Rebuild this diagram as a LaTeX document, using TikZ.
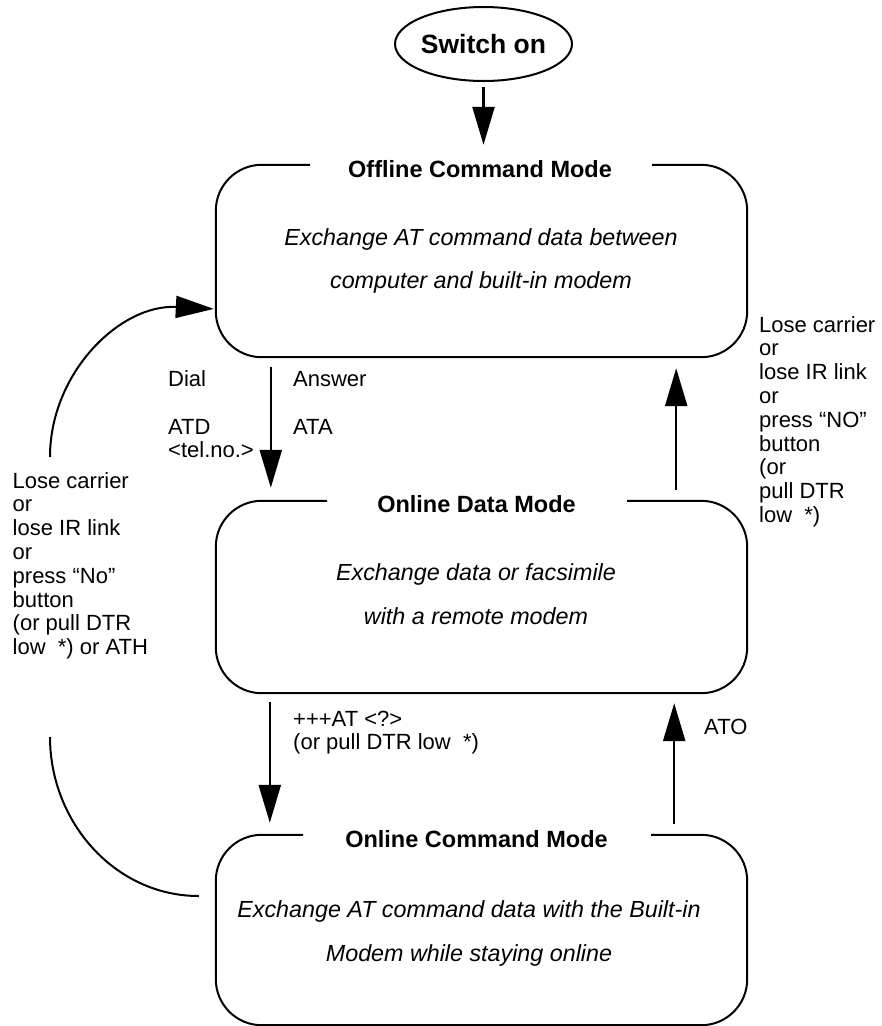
\documentclass[tikz,border=0pt]{standalone}
\usepackage{fontspec}
\setmainfont{Liberation Sans}
\usetikzlibrary{arrows.meta,shapes.geometric}
\newcommand\lblfont{\fontsize{22}{23.8}\selectfont}
\newcommand\mlines[1]{\begin{tabular}[t]{@{}l@{}}#1\end{tabular}}
\begin{document}
\begin{tikzpicture}[x=1pt,y=-1pt,
  boxn/.style={rectangle, draw=none, minimum width=531pt, inner sep=0pt},
  boxline/.style={line width=2pt, rounded corners=46pt},
  arr/.style={line width=2.5pt, -{Triangle[length=38pt,width=22pt]}},
  arcline/.style={line width=2pt},
  titletxt/.style={anchor=base, inner sep=0pt, font=\fontsize{23.5}{28}\selectfont\bfseries},
  bodytxt/.style={anchor=base, inner sep=0pt, font=\fontsize{23.3}{28}\selectfont\itshape},
  lbl/.style={anchor=base west, inner sep=0pt, font=\lblfont},
  startnode/.style={ellipse, draw, line width=2pt, minimum width=169pt, minimum height=74pt, inner sep=0pt, font=\fontsize{26.5}{30}\selectfont\bfseries}]
\fill[white] (0,0) rectangle (882,1026);
\useasboundingbox (0,0) rectangle (882,1026);

% start node
\node[startnode] (sw) at (483.5,44) {Switch on};

% boxes
\node[boxn, minimum height=192pt] (off) at (481.5,261) {};
\node[boxn, minimum height=192pt] (data) at (481.5,597) {};
\node[boxn, minimum height=190pt] (cmd) at (481.5,930) {};

\draw[boxline] ([xshift=-171.5pt]off.north) -- (off.north west) -- (off.south west) -- (off.south east) -- (off.north east) -- ([xshift=170.5pt]off.north);
\draw[boxline] ([xshift=-154.5pt]data.north) -- (data.north west) -- (data.south west) -- (data.south east) -- (data.north east) -- ([xshift=145.5pt]data.north);
\draw[boxline] ([xshift=-178.5pt]cmd.north) -- (cmd.north west) -- (cmd.south west) -- (cmd.south east) -- (cmd.north east) -- ([xshift=169.5pt]cmd.north);

% titles
\node[titletxt] (offT) at (480,177) {Offline Command Mode};
\node[titletxt] (dataT) at (476.5,512) {Online Data Mode};
\node[titletxt] (cmdT) at (476.5,847) {Online Command Mode};

% body texts
\node[bodytxt] (offB1) at (481,245) {Exchange AT command data between};
\node[bodytxt] (offB2) at (481,288) {computer and built-in modem};
\node[bodytxt] (dataB1) at (476,580) {Exchange data or facsimile};
\node[bodytxt] (dataB2) at (476,624) {with a remote modem};
\node[bodytxt] (cmdB1) at (469,917) {Exchange AT command data with the Built-in};
\node[bodytxt] (cmdB2) at (469,961) {Modem while staying online};

% connectors
\draw[arr, shorten <=5pt, shorten >=20pt] (sw.south) -- (sw.south |- off.north);
\draw[arr, shorten <=10pt, shorten >=13pt] ([xshift=55pt]off.south west) -- ([xshift=55pt]data.north west);
\draw[arr, shorten <=11pt, shorten >=11pt] ([xshift=-71pt]data.north east) -- ([xshift=-71pt]off.south east);
\draw[arr, shorten <=9pt, shorten >=12pt] ([xshift=54pt]data.south west) -- ([xshift=54pt]cmd.north west);
\draw[arr, shorten <=11pt, shorten >=10pt] ([xshift=-73pt]cmd.north east) -- ([xshift=-73pt]data.south east);

\coordinate (loopA) at (50,457);
\coordinate (loopB) at (50,737);
\draw[arr, line width=2pt, shorten >=2pt] (loopA) .. controls (50,373) and (120,304) .. ([yshift=-48pt]off.west);
\draw[arcline, shorten >=17pt] (loopB) .. controls (50,822) and (115,896) .. ([yshift=34pt]cmd.west);

% labels
\node[lbl] (dial) at (168,386.5) {\mlines{Dial\\ \\ATD\\<tel.no.>}};
\node[lbl] (answer) at (293,386.5) {\mlines{Answer\\ \\ATA}};
\node[lbl] (rightlbl) at (759,332) {\mlines{Lose carrier\\or\\lose IR link\\or\\press “NO”\\button\\(or\\pull DTR\\low~~*)}};
\node[lbl] (leftlbl) at (12.5,488) {\mlines{Lose carrier\\or\\lose IR link\\or\\press “No”\\button\\(or pull DTR\\low~~*) or ATH}};
\node[lbl] (escape) at (293,726) {\mlines{+++AT <?>\\(or pull DTR low~~*)}};
\node[lbl] (ato) at (704,734) {ATO};
\end{tikzpicture}
\end{document}
